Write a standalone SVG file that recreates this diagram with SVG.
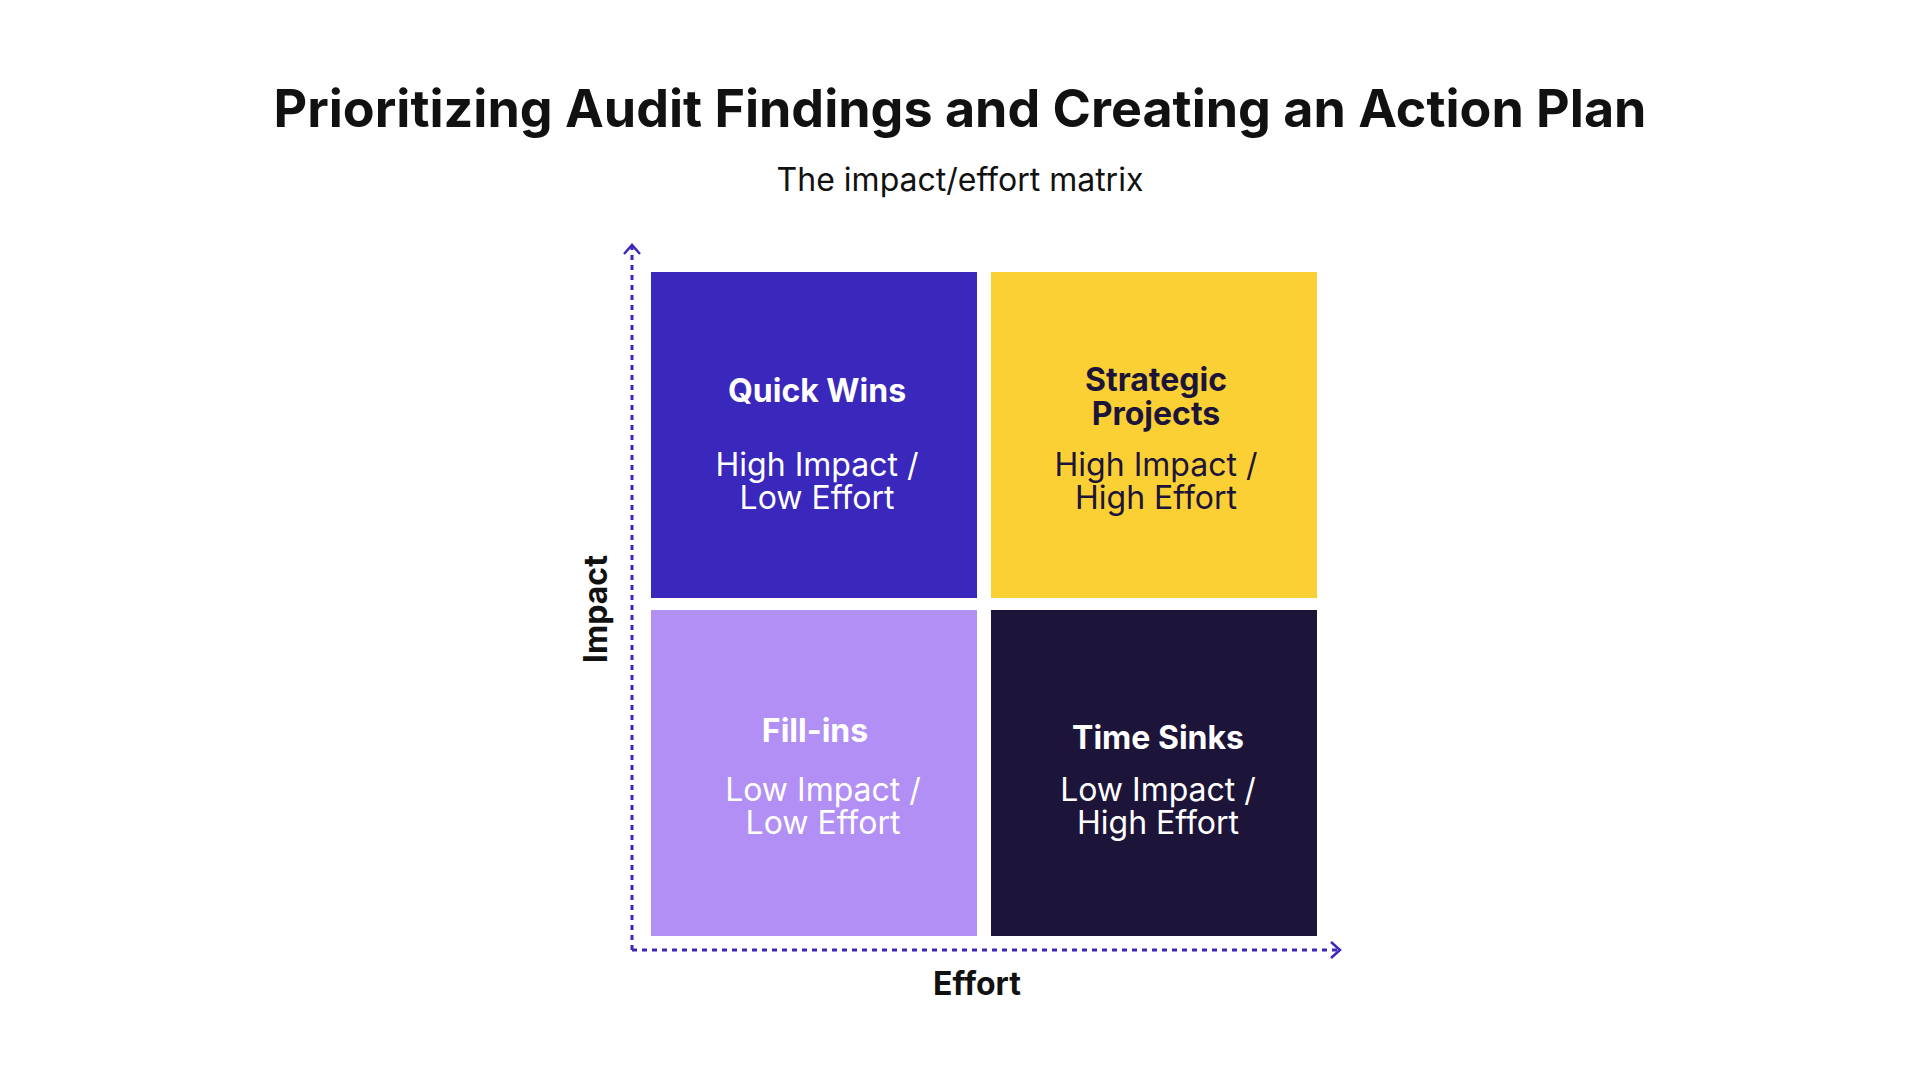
<svg xmlns="http://www.w3.org/2000/svg" width="1920" height="1080" viewBox="0 0 1920 1080">
<style>
text{font-family:Inter,"Noto Sans","Liberation Sans",sans-serif;text-anchor:middle}
.t{font-size:32px;font-weight:700}
.s{font-size:32px;font-weight:400}
.ax{stroke:#3A27BC;stroke-width:3;stroke-dasharray:5 5;fill:none}
</style>
<defs><marker id="arr" markerWidth="20" markerHeight="20" refX="13" refY="10" orient="auto" markerUnits="userSpaceOnUse"><path d="M4,2 L13,10 L4,18" fill="none" stroke="#3A27BC" stroke-width="2.5"/></marker></defs>
<rect width="1920" height="1080" fill="#fff"/>
<text x="960" y="127" font-size="52" font-weight="700" fill="#111">Prioritizing Audit Findings and Creating an Action Plan</text>
<text x="960" y="191" font-size="32" fill="#111">The impact/effort matrix</text>
<g id="connectors">
<path class="ax" d="M632,950 L632,245" marker-end="url(#arr)"/>
<path class="ax" d="M632,950 L1340,950" marker-end="url(#arr)"/>
</g>
<text transform="translate(607,609) rotate(-90)" font-size="32" font-weight="700" fill="#111">Impact</text>
<text x="977" y="995" font-size="32" font-weight="700" fill="#111">Effort</text>
<g id="quick-wins"><rect x="651" y="272" width="326" height="326" fill="#3A27BC"/>
<text class="t" x="817" y="402" fill="#fff">Quick Wins</text>
<text class="s" x="817" y="476" fill="#fff">High Impact /</text><text class="s" x="817" y="509" fill="#fff">Low Effort</text></g>
<g id="strategic-projects"><rect x="991" y="272" width="326" height="326" fill="#FAD035"/>
<text class="t" x="1156" y="391" fill="#1C1539">Strategic</text><text class="t" x="1156" y="425" fill="#1C1539">Projects</text>
<text class="s" x="1156" y="476" fill="#1C1539">High Impact /</text><text class="s" x="1156" y="509" fill="#1C1539">High Effort</text></g>
<g id="fill-ins"><rect x="651" y="610" width="326" height="326" fill="#B18FF5"/>
<text class="t" x="815" y="742" fill="#fff">Fill-ins</text>
<text class="s" x="823" y="801" fill="#fff">Low Impact /</text><text class="s" x="823" y="834" fill="#fff">Low Effort</text></g>
<g id="time-sinks"><rect x="991" y="610" width="326" height="326" fill="#1C1539"/>
<text class="t" x="1158" y="749" fill="#fff">Time Sinks</text>
<text class="s" x="1158" y="801" fill="#fff">Low Impact /</text><text class="s" x="1158" y="834" fill="#fff">High Effort</text></g>
</svg>
